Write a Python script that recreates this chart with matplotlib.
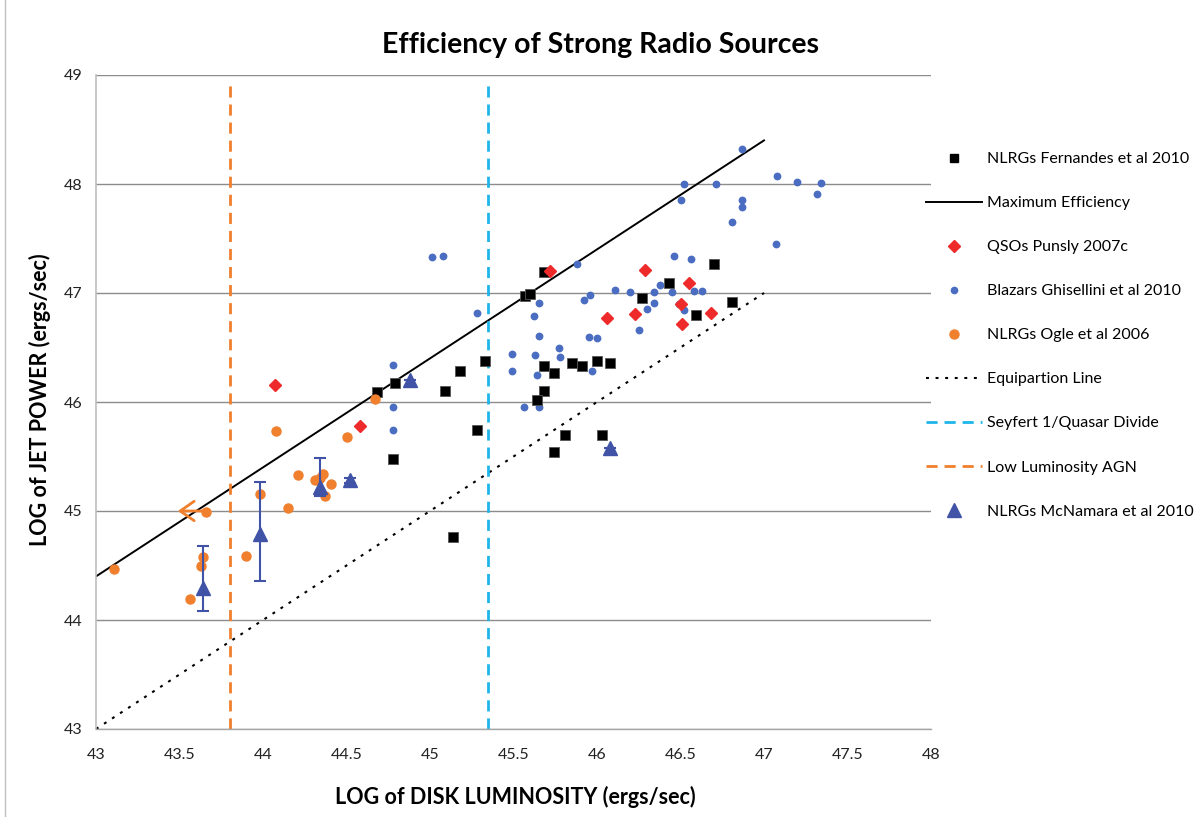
import matplotlib
matplotlib.use("Agg")
import matplotlib.pyplot as plt
from matplotlib.lines import Line2D
import numpy as np

plt.rcParams['font.family'] = ['Lato', 'DejaVu Sans']

# ---- data ----
fern_x = [44.68, 44.79, 45.18, 45.09, 45.33, 45.28, 44.78, 45.14, 45.68, 45.57, 45.60, 45.68, 45.74, 45.85,
          45.91, 46.00, 46.08, 45.68, 45.64, 45.81, 46.03, 45.74, 46.27, 46.43, 46.70, 46.81, 46.59]
fern_y = [46.09, 46.17, 46.28, 46.10, 46.38, 45.74, 45.48, 44.76, 47.19, 46.97, 46.99, 46.33, 46.27, 46.36,
          46.33, 46.38, 46.36, 46.10, 46.02, 45.70, 45.70, 45.54, 46.95, 47.09, 47.27, 46.92, 46.80]

qso_x = [44.07, 44.58, 45.72, 46.29, 46.06, 46.23, 46.55, 46.50, 46.51, 46.68]
qso_y = [46.16, 45.78, 47.20, 47.21, 46.77, 46.81, 47.09, 46.90, 46.72, 46.82]

blz_x = [44.78, 44.78, 44.78, 45.01, 45.08, 45.28, 45.88, 46.46, 45.65, 45.62, 45.65, 45.49, 45.49, 45.63,
         45.64, 45.77, 45.78, 45.56, 45.65, 45.92, 45.96, 45.95, 46.00, 45.97, 46.11, 46.20, 46.34, 46.38,
         46.45, 46.30, 46.34, 46.25, 46.49, 46.87, 46.52, 46.50, 46.71, 47.08, 47.20, 47.34, 47.32, 46.87,
         46.87, 46.81, 47.07, 46.56, 46.58, 46.63, 46.52]
blz_y = [46.34, 45.95, 45.74, 47.33, 47.34, 46.82, 47.27, 47.34, 46.91, 46.79, 46.61, 46.44, 46.28, 46.43,
         46.25, 46.50, 46.41, 45.95, 45.95, 46.94, 46.98, 46.60, 46.59, 46.28, 47.03, 47.01, 47.01, 47.07,
         47.01, 46.85, 46.91, 46.66, 46.90, 48.32, 48.00, 47.85, 48.00, 48.07, 48.02, 48.01, 47.91, 47.85,
         47.79, 47.65, 47.45, 47.31, 47.02, 47.02, 46.84]

ogle_x = [43.11, 44.08, 44.50, 43.66, 43.64, 43.63, 43.56, 43.98, 43.90, 44.15, 44.21, 44.31, 44.36, 44.34,
          44.41, 44.37, 44.67]
ogle_y = [44.47, 45.73, 45.68, 44.99, 44.58, 44.50, 44.19, 45.16, 44.59, 45.03, 45.33, 45.28, 45.34, 45.30,
          45.25, 45.14, 46.03]
ogle_arrow_from = (43.66, 45.00)
ogle_arrow_to = (43.49, 45.00)

mcn_x = [43.64, 43.98, 44.34, 44.52, 44.88, 46.08]
mcn_y = [44.29, 44.79, 45.22, 45.28, 46.20, 45.58]
mcn_err_lo = [0.21, 0.43, 0.08, 0.02, 0.0, 0.0]
mcn_err_hi = [0.39, 0.48, 0.27, 0.02, 0.0, 0.0]

max_eff_x = [43.0, 47.0]
max_eff_y = [44.4, 48.4]
equip_x = [43.0, 47.0]
equip_y = [43.0, 47.0]
seyfert_x = 45.35
lowlum_x = 43.8
vline_y = [43.0, 48.94]

labels = ["NLRGs Fernandes et al 2010", "Maximum Efficiency", "QSOs Punsly 2007c",
          "Blazars Ghisellini et al 2010", "NLRGs Ogle et al 2006", "Equipartion Line",
          "Seyfert 1/Quasar Divide", "Low Luminosity AGN", "NLRGs McNamara et al 2010"]

# ---- colours ----
c_red = '#EE2A2A'
c_blue = '#4A6DC2'
c_orange = '#F07F2E'
c_cyan = '#1EB6E9'
c_tri = '#4053A6'
c_grid = '#8C8C8C'

dash = (0, (4, 2.5))
dots = (0, (1.4, 3.2))

fig = plt.figure(figsize=(11.99, 8.17), dpi=100)
ax = fig.add_axes([96/1199, 1-729/817, 835/1199, 654/817])

ax.set_xlim(43, 48)
ax.set_ylim(43, 49)
ax.set_xticks(np.arange(43, 48.01, 0.5))
ax.set_xticklabels(['43', '43.5', '44', '44.5', '45', '45.5', '46', '46.5', '47', '47.5', '48'])
ax.set_yticks(np.arange(43, 49.01, 1))
ax.yaxis.grid(True, color=c_grid, lw=1.0)
ax.set_axisbelow(True)
for s in ['top', 'right']:
    ax.spines[s].set_visible(False)
ax.spines['left'].set_color('#BFBFBF')
ax.spines['left'].set_linewidth(1.2)
ax.spines['bottom'].set_color('#A6A6A6')
ax.spines['bottom'].set_linewidth(1.0)
ax.tick_params(length=0, labelsize=11.5, pad=14, colors='#222222')
ax.tick_params(axis='y', pad=10)

# lines
ax.plot(max_eff_x, max_eff_y, color='black', lw=1.4, zorder=2)
ax.plot(equip_x, equip_y, color='black', lw=1.5, ls=dots, zorder=2)
ax.plot([seyfert_x, seyfert_x], vline_y, color=c_cyan, lw=2, ls=dash, zorder=2)
ax.plot([lowlum_x, lowlum_x], vline_y, color=c_orange, lw=2, ls=dash, zorder=2)

# points
ax.plot(blz_x, blz_y, ls='none', marker='o', ms=4.6, color=c_blue, mec=c_blue, zorder=3)
ax.plot(fern_x, fern_y, ls='none', marker='s', ms=7.2, color='black', mec='#555555', mew=0.6, zorder=4)
ax.plot(qso_x, qso_y, ls='none', marker='D', ms=6.3, color=c_red, mec=c_red, zorder=4)
ax.plot(ogle_x, ogle_y, ls='none', marker='o', ms=6.5, color=c_orange, mec=c_orange, zorder=4)
ax.annotate('', xy=ogle_arrow_to, xytext=ogle_arrow_from,
            arrowprops=dict(arrowstyle='->,head_length=0.5,head_width=0.35', color=c_orange, lw=2.0,
                            mutation_scale=20, shrinkA=0, shrinkB=0), zorder=4)
ax.errorbar(mcn_x, mcn_y, yerr=[mcn_err_lo, mcn_err_hi], ls='none', marker='^', ms=10,
            color=c_tri, mec=c_tri, ecolor=c_tri, elinewidth=1.5, capsize=4, capthick=1.5, zorder=5)

# titles
fig.text(601/1199, 1-45/817, 'Efficiency of Strong Radio Sources', ha='center', va='center',
         fontsize=20.5, fontweight='bold')
fig.text(515/1199, 1-797/817, 'LOG of DISK LUMINOSITY (ergs/sec)', ha='center', va='center',
         fontsize=15.5, fontweight='bold')
fig.text(40/1199, 1-400/817, 'LOG of JET POWER (ergs/sec)', ha='center', va='center',
         fontsize=15.5, fontweight='bold', rotation=90)

# legend
handles = [
    Line2D([], [], ls='none', marker='s', ms=6, color='black'),
    Line2D([], [], color='black', lw=1.4),
    Line2D([], [], ls='none', marker='D', ms=6, color=c_red),
    Line2D([], [], ls='none', marker='o', ms=4.5, color=c_blue),
    Line2D([], [], ls='none', marker='o', ms=6.5, color=c_orange),
    Line2D([], [], color='black', lw=1.5, ls=dots),
    Line2D([], [], color=c_cyan, lw=2, ls=dash),
    Line2D([], [], color=c_orange, lw=2, ls=dash),
    Line2D([], [], ls='none', marker='^', ms=10, color=c_tri),
]
fig.legend(handles, labels, loc='upper left', bbox_to_anchor=(926/1199, 1-152/817),
           frameon=False, fontsize=11.5, handlelength=3.5, handletextpad=0.35,
           labelspacing=1.87, borderaxespad=0, borderpad=0)

# figure border (left edge)
fig.add_artist(Line2D([5/1199, 5/1199], [0, 1], color='#BFBFBF', lw=1.0, transform=fig.transFigure))

fig.savefig('out.png', dpi=100)
